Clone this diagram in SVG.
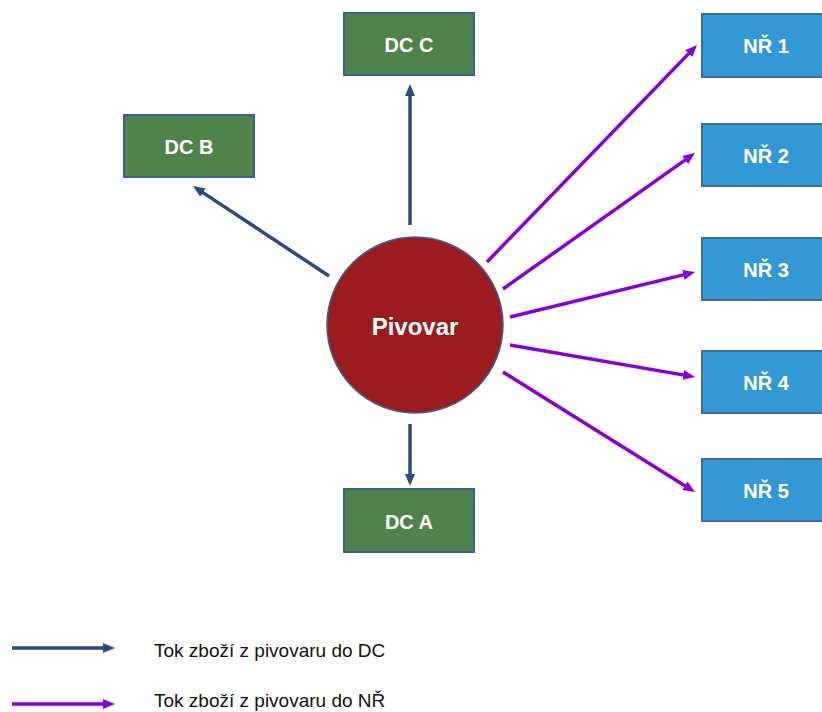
<svg xmlns="http://www.w3.org/2000/svg" width="822" height="712" viewBox="0 0 822 712">
<style>
.dc rect{fill:#50834B;stroke:#3B5E96;stroke-width:2}
.nr rect{fill:#3498D6;stroke:#3F6A9A;stroke-width:2}
.lbl{font-family:"Liberation Sans",Arial,sans-serif;font-weight:bold;font-size:20px;fill:#fff;text-anchor:middle}
.navy{stroke:#2E4A7E;stroke-width:3.5;fill:none;marker-end:url(#hn)}
.purp{stroke:#8600D9;stroke-width:3.5;fill:none;marker-end:url(#hp)}
.leg{font-family:"Liberation Sans",Arial,sans-serif;font-size:19px;fill:#111}
</style>
<defs>
<marker id="hn" viewBox="0 0 12 10" markerWidth="12" markerHeight="10" refX="1" refY="5" orient="auto" markerUnits="userSpaceOnUse"><path d="M0,0 L12,5 L0,10 z" fill="#2E4A7E"/></marker>
<marker id="hp" viewBox="0 0 12 10" markerWidth="12" markerHeight="10" refX="1" refY="5" orient="auto" markerUnits="userSpaceOnUse"><path d="M0,0 L12,5 L0,10 z" fill="#8600D9"/></marker>
</defs>
<rect width="822" height="712" fill="#fff"/>
<g id="connectors">
<line class="navy" x1="410" y1="225" x2="410" y2="95"/>
<line class="navy" x1="410" y1="424" x2="410" y2="475"/>
<line class="navy" x1="329" y1="276" x2="202.2" y2="192.1"/>
<line class="purp" x1="487" y1="262" x2="689.4" y2="52.9"/>
<line class="purp" x1="503" y1="289" x2="686" y2="159.4"/>
<line class="purp" x1="510" y1="317" x2="684.3" y2="274.6"/>
<line class="purp" x1="510" y1="345" x2="684.2" y2="375.1"/>
<line class="purp" x1="503" y1="372" x2="685.7" y2="486.2"/>
</g>
<g id="pivovar"><circle cx="415" cy="325" r="88" fill="#9B1C1F" stroke="#3B5E96" stroke-width="1.5"/><text class="lbl" x="415" y="335" style="font-size:24px">Pivovar</text></g>
<g id="dcC" class="dc"><rect x="344" y="13" width="130" height="62"/><text class="lbl" x="409" y="52">DC C</text></g>
<g id="dcB" class="dc"><rect x="124" y="115" width="130" height="62"/><text class="lbl" x="189" y="154">DC B</text></g>
<g id="dcA" class="dc"><rect x="344" y="489" width="130" height="63"/><text class="lbl" x="409" y="529">DC A</text></g>
<g id="nr1" class="nr"><rect x="702" y="14" width="130" height="63"/><text class="lbl" x="766" y="53">NŘ 1</text></g>
<g id="nr2" class="nr"><rect x="702" y="124" width="130" height="62"/><text class="lbl" x="766" y="163">NŘ 2</text></g>
<g id="nr3" class="nr"><rect x="702" y="238" width="130" height="62"/><text class="lbl" x="766" y="277">NŘ 3</text></g>
<g id="nr4" class="nr"><rect x="702" y="351" width="130" height="62"/><text class="lbl" x="766" y="390">NŘ 4</text></g>
<g id="nr5" class="nr"><rect x="702" y="459" width="130" height="62"/><text class="lbl" x="766" y="498">NŘ 5</text></g>
<g id="legend">
<line class="navy" x1="12" y1="648" x2="104" y2="648"/>
<line class="purp" x1="12" y1="704" x2="104" y2="704"/>
<text class="leg" x="154" y="657">Tok zboží z pivovaru do DC</text>
<text class="leg" x="154" y="707">Tok zboží z pivovaru do NŘ</text>
</g>
</svg>
